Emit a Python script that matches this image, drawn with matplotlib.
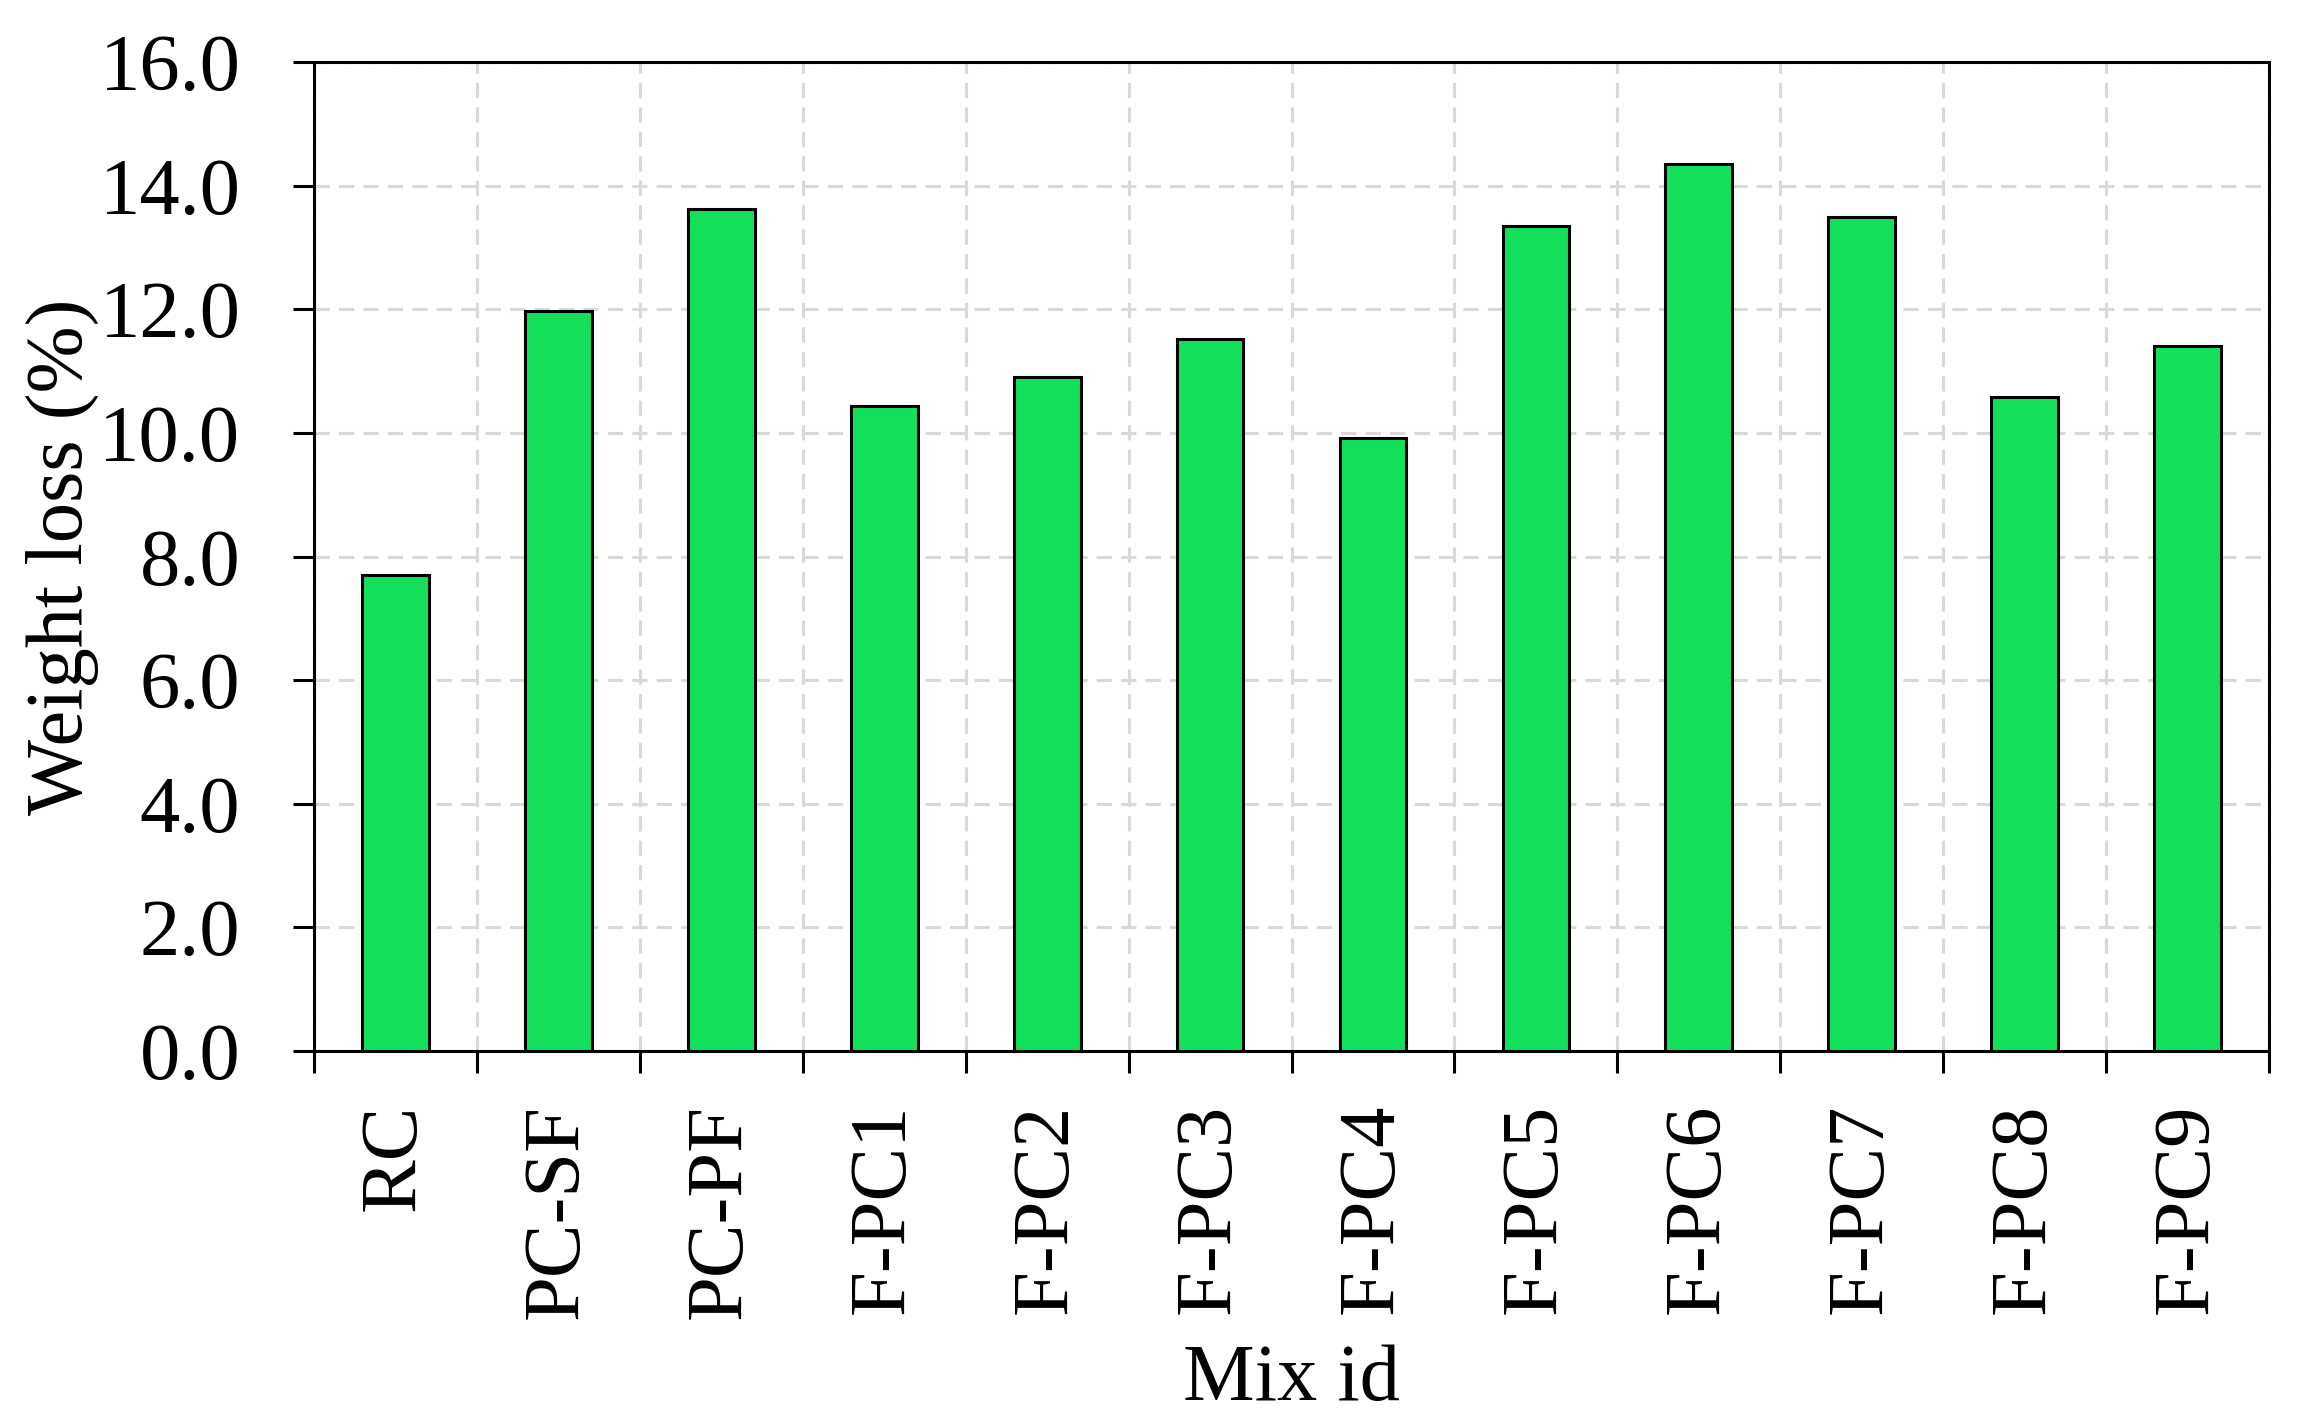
import matplotlib.pyplot as plt
from matplotlib.ticker import FormatStrFormatter, FixedLocator

# Mischungen und Gewichtsverlust
mix_ids = ["RC", "PC-SF", "PC-PF", "F-PC1", "F-PC2", "F-PC3", "F-PC4",
           "F-PC5", "F-PC6", "F-PC7", "F-PC8", "F-PC9"]
weight_loss = [7.7, 11.97, 13.62, 10.44, 10.9, 11.52, 9.92,
               13.35, 14.35, 13.49, 10.58, 11.4]
y_ticks = [0, 2, 4, 6, 8, 10, 12, 14, 16]

plt.rcParams['font.family'] = ['Liberation Serif', 'DejaVu Serif']
plt.rcParams['font.size'] = 29

fig = plt.figure(figsize=(11.57, 7.115), dpi=200)
ax = fig.add_axes([0.1357, 0.2614, 0.8449, 0.695])

x = list(range(len(mix_ids)))
ax.bar(x, weight_loss, width=0.41, color='#13E05A', edgecolor='black',
       linewidth=1.1, zorder=3)

ax.set_xlim(-0.5, len(mix_ids) - 0.5)
ax.set_ylim(0, 16)
ax.set_yticks(y_ticks)
ax.yaxis.set_major_formatter(FormatStrFormatter('%.1f'))

# Striche an den Kategoriegrenzen, Beschriftung in der Mitte
ax.xaxis.set_major_locator(FixedLocator([i - 0.5 for i in range(len(mix_ids) + 1)]))
ax.set_xticklabels([])
ax.xaxis.set_minor_locator(FixedLocator(x))
ax.set_xticklabels(mix_ids, minor=True, rotation=90)
ax.tick_params(axis='x', which='minor', length=0, pad=19)
ax.tick_params(axis='x', which='major', length=8, width=1.1, direction='out')
ax.tick_params(axis='y', which='major', length=7.5, width=1.1, direction='out', pad=19)

ax.grid(True, which='major', linestyle=(0, (5, 3)), color='#d9d9d9', linewidth=1.1, zorder=0)
ax.set_axisbelow(True)

for s in ax.spines.values():
    s.set_linewidth(1.1)

ax.set_xlabel('Mix id', labelpad=9)
ax.set_ylabel('Weight loss (%)', labelpad=0)

fig.savefig('out.png', dpi=200)
